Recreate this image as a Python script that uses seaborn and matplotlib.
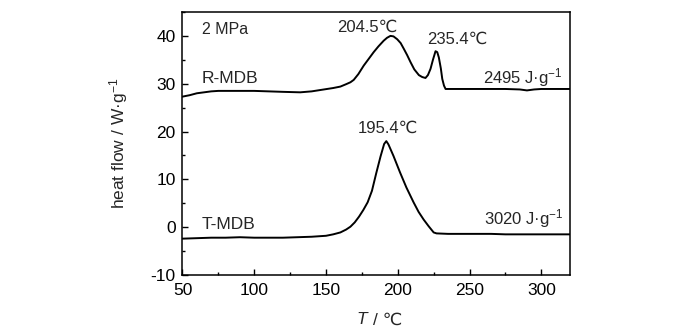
import matplotlib
matplotlib.use("Agg")
import matplotlib.pyplot as plt
from matplotlib.ticker import MultipleLocator
import pandas as pd
import seaborn as sns

# DSC heat-flow curves at 2 MPa
r_mdb_T = [50, 55, 60, 65, 70, 75, 80, 90, 100, 110, 120, 132, 140, 150.7,
           155, 160, 164, 167, 169.3, 172.5, 176.3, 180, 183.2, 186.5, 190.2,
           192.5, 194.9, 197, 199.6, 202, 204.2, 206.5, 208.9, 211.5, 214.7,
           217, 219.3, 221, 222.8, 224.5, 226.3, 227.5, 228.6, 230, 231,
           232.2, 233.3, 236, 245, 255, 265, 275, 285, 290, 295, 300, 310, 320]
r_mdb_hf = [27.3, 27.6, 28.0, 28.2, 28.4, 28.5, 28.5, 28.5, 28.5, 28.4, 28.3,
            28.2, 28.4, 28.9, 29.1, 29.4, 29.9, 30.3, 30.8, 32.0, 33.8, 35.3,
            36.6, 37.8, 39.0, 39.6, 40.0, 39.9, 39.3, 38.5, 37.3, 36.0, 34.5,
            33.0, 31.8, 31.4, 31.2, 31.8, 33.1, 35.0, 36.8, 36.6, 35.5, 33.2,
            31.0, 29.6, 28.9, 28.9, 28.9, 28.9, 28.9, 28.9, 28.8, 28.6, 28.8,
            28.9, 28.9, 28.9]

t_mdb_T = [50, 60, 70, 80, 90, 100, 110, 120, 130, 140, 145, 150, 155, 160,
           164, 167, 170, 173, 176, 179, 182, 185, 188, 190.5, 192, 193.5,
           197, 201.5, 206, 211, 214.5, 218, 221.5, 225, 227, 235, 245, 255,
           265, 275, 285, 295, 305, 320]
t_mdb_hf = [-2.4, -2.3, -2.2, -2.2, -2.1, -2.2, -2.2, -2.2, -2.1, -2.0, -1.9,
            -1.8, -1.5, -1.1, -0.5, 0.1, 1.0, 2.2, 3.6, 5.2, 7.6, 11.3, 14.8,
            17.4, 18.0, 17.3, 14.9, 11.5, 8.3, 5.2, 3.2, 1.6, 0.2, -1.1, -1.3,
            -1.4, -1.4, -1.4, -1.4, -1.5, -1.5, -1.5, -1.5, -1.5]

x_ticks = [50, 100, 150, 200, 250, 300]
y_ticks = [-10, 0, 10, 20, 30, 40]

sns.set_theme(style="ticks")
plt.rcParams["font.family"] = ["Liberation Sans", "DejaVu Sans"]
plt.rcParams["mathtext.fontset"] = "custom"
plt.rcParams["mathtext.rm"] = "Liberation Sans"
plt.rcParams["mathtext.it"] = "Liberation Sans:italic"
plt.rcParams["mathtext.default"] = "regular"
plt.rcParams["axes.unicode_minus"] = False

df = pd.concat([
    pd.DataFrame({"T": r_mdb_T, "hf": r_mdb_hf, "sample": "R-MDB"}),
    pd.DataFrame({"T": t_mdb_T, "hf": t_mdb_hf, "sample": "T-MDB"}),
])

fig = plt.figure(figsize=(7.0, 3.32), dpi=100)
ax = fig.add_axes([0.2607, 0.1717, 0.8143 - 0.2607, 0.9639 - 0.1717])

sns.lineplot(data=df, x="T", y="hf", hue="sample", units="sample",
             estimator=None, sort=False, palette=["black", "black"],
             linewidth=1.4, legend=False, ax=ax)

ax.set_xlim(50, 320)
ax.set_ylim(-10, 45)
ax.set_xticks(x_ticks)
ax.set_yticks(y_ticks)
ax.xaxis.set_minor_locator(MultipleLocator(25))
ax.yaxis.set_minor_locator(MultipleLocator(5))
ax.tick_params(which="both", direction="in", top=False, right=False,
               colors="black", labelsize=12.5, width=1.0)
ax.tick_params(which="major", length=4)
ax.tick_params(which="minor", length=2.5)
ax.tick_params(axis="x", pad=6)
ax.tick_params(axis="y", pad=5)
for s in ax.spines.values():
    s.set_visible(True)
    s.set_linewidth(1.1)
    s.set_color("black")

# x-axis title: italic symbol followed by the unit
ax.set_xlabel("")
fig.text(367 / 700, 1 - 320 / 332, "T", fontsize=12.5, style="italic",
         ha="right", va="center")
fig.text(373 / 700, 1 - 320 / 332, "/ ℃", fontsize=12.5,
         ha="left", va="center")
ax.set_ylabel(r"heat flow / W·g$^{-1}$", fontsize=12.5, labelpad=15)

fs = 12.5
ax.text(63.3, 41.4, "2 MPa", fontsize=11.5, ha="left", va="center")
ax.text(63.3, 31.0, "R-MDB", fontsize=fs, ha="left", va="center")
ax.text(63.3, 0.6, "T-MDB", fontsize=fs, ha="left", va="center")
ax.text(179, 41.8, "204.5℃", fontsize=12, ha="center", va="center")
ax.text(241.5, 39.3, "235.4℃", fontsize=12, ha="center", va="center")
ax.text(193.4, 20.7, "195.4℃", fontsize=12, ha="center", va="center")
ax.text(315, 30.0, r"2495 J·g$^{-1}$", fontsize=12, ha="right", va="baseline")
ax.text(315.5, 0.6, r"3020 J·g$^{-1}$", fontsize=12, ha="right", va="baseline")

fig.savefig("out.png", dpi=100)
